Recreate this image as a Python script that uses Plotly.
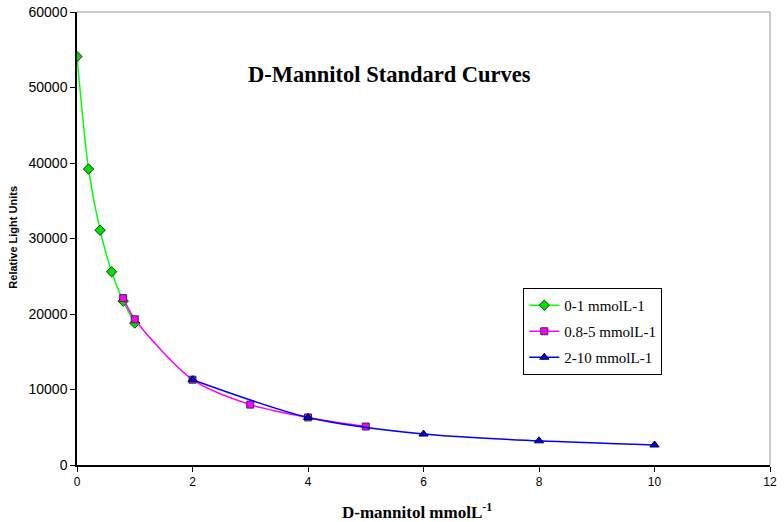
import plotly.graph_objects as go

x1 = [0, 0.2, 0.4, 0.6, 0.8, 1.0]
y1 = [54100, 39200, 31100, 25600, 21700, 18800]
x2 = [0.8, 1.0, 2, 3, 4, 5]
y2 = [22100, 19300, 11300, 8000, 6300, 5100]
x3 = [2, 4, 6, 8, 10]
y3 = [11300, 6300, 4100, 3200, 2650]
names = ["0-1 mmolL-1", "0.8-5 mmolL-1", "2-10 mmolL-1"]

SERIF = "Liberation Serif, Times New Roman, serif"
SANS = "Liberation Sans, Arial, sans-serif"
NARROW = "Liberation Sans Narrow, Arial Narrow, Arial, sans-serif"

fig = go.Figure()
fig.add_trace(go.Scatter(x=x1, y=y1, name=names[0], legendgroup="a", mode="lines+markers",
    line=dict(color="#00ff00", width=1.5, shape="spline", smoothing=0.8),
    marker=dict(symbol="diamond", size=8, color="#00dd00", line=dict(color="#1a3a1a", width=1))))
fig.add_trace(go.Scatter(x=x2, y=y2, name=names[1], legendgroup="b", mode="lines+markers",
    line=dict(color="#ff00ff", width=1.5, shape="spline", smoothing=0.8),
    marker=dict(symbol="square", size=7, color="#ff00ff", line=dict(color="#333333", width=1))))
fig.add_trace(go.Scatter(x=x3, y=y3, name=names[2], legendgroup="c", mode="lines+markers",
    line=dict(color="#0000ff", width=1.5, shape="spline", smoothing=0.8),
    marker=dict(symbol="triangle-up", size=8, color="#0000ee", line=dict(color="#000033", width=1))))

fig.update_layout(
    width=784, height=522,
    margin=dict(l=77, r=14, t=12, b=57),
    paper_bgcolor="white", plot_bgcolor="white",
    showlegend=True,
    legend=dict(x=0.644, y=0.3907, xanchor="left", yanchor="top",
                bordercolor="black", borderwidth=1, bgcolor="white",
                font=dict(family=SERIF, size=15, color="black"),
                tracegroupgap=3.5, itemwidth=30),
    annotations=[
        dict(text="<b>D-Mannitol Standard Curves</b>", x=0.451, y=0.863,
             xref="paper", yref="paper", showarrow=False, xanchor="center", yanchor="middle",
             font=dict(family=SERIF, size=22.5, color="black")),
        dict(text="<b>D-mannitol mmolL<sup>-1</sup></b>", x=0.4906, y=-0.1015,
             xref="paper", yref="paper", showarrow=False, xanchor="center", yanchor="middle",
             font=dict(family=SERIF, size=17, color="black")),
        dict(text="<b>Relative Light Units</b>", x=-0.0924, y=0.504, textangle=-90,
             xref="paper", yref="paper", showarrow=False, xanchor="center", yanchor="middle",
             font=dict(family=SANS, size=11, color="black")),
    ],
    xaxis=dict(range=[0, 12], dtick=2, tick0=0, showgrid=False, zeroline=False, automargin=False,
               showline=True, linecolor="black", linewidth=1.5, mirror=False,
               ticks="outside", ticklen=5, tickcolor="black",
               tickfont=dict(family=NARROW, size=12, color="black")),
    yaxis=dict(range=[0, 60000], dtick=10000, tickformat="d", showgrid=False, zeroline=False,
               automargin=False,
               showline=True, linecolor="black", linewidth=1.5,
               ticks="outside", ticklen=5, tickcolor="black",
               tickfont=dict(family=SANS, size=14, color="black")),
)
fig.add_shape(type="line", xref="paper", yref="paper", x0=0, x1=1, y0=1, y1=1, line=dict(color="#999999", width=1))
fig.add_shape(type="line", xref="paper", yref="paper", x0=1, x1=1, y0=0, y1=1, line=dict(color="#999999", width=1))

fig.write_html("out.html", config={"displayModeBar": False},
               post_script="document.body.style.margin='0';document.body.style.overflow='hidden';")
